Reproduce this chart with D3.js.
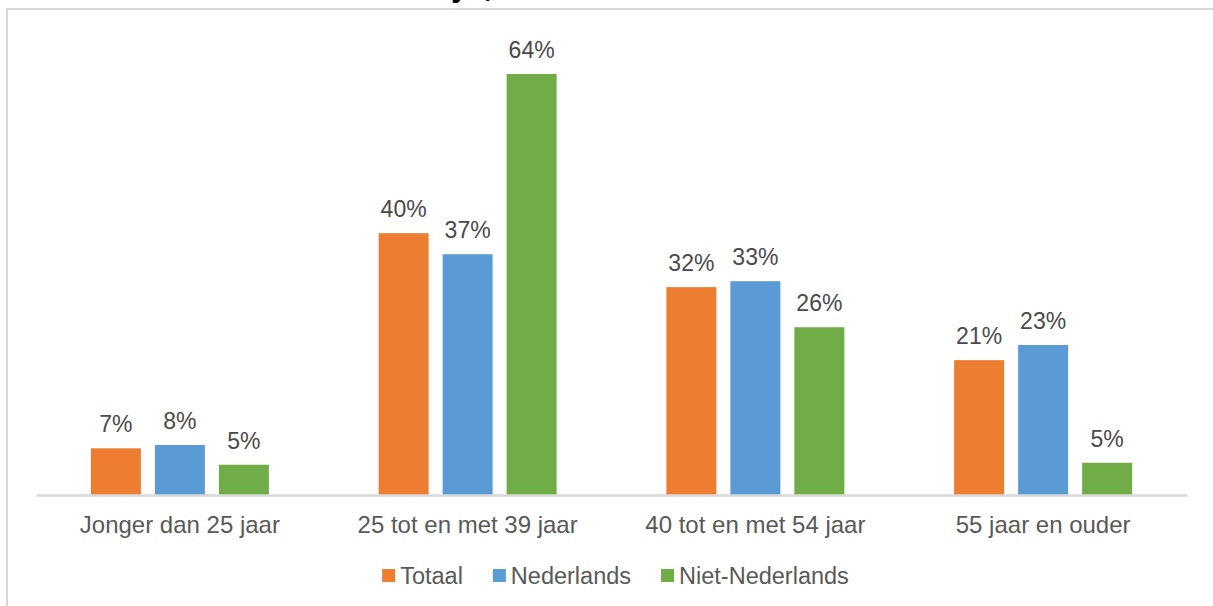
<!DOCTYPE html>
<html><head><meta charset="utf-8">
<script src="https://cdn.jsdelivr.net/npm/d3@7"></script>
<style>
html,body{margin:0;padding:0;background:#fff;overflow:hidden;}
svg{display:block;font-family:"Liberation Sans",Arial,sans-serif;}
</style></head>
<body>
<svg id="c" width="1213" height="606"></svg>
<script>
const categories = ["Jonger dan 25 jaar", "25 tot en met 39 jaar", "40 tot en met 54 jaar", "55 jaar en ouder"];
const seriesNames = ["Totaal", "Nederlands", "Niet-Nederlands"];
const totaal = [7.1, 39.8, 31.6, 20.5];
const nederlands = [7.6, 36.6, 32.5, 22.8];
const nietNederlands = [4.6, 64.0, 25.5, 4.9];
const seriesValues = [totaal, nederlands, nietNederlands];
const colors = ["#ED7D31", "#5B9BD5", "#70AD47"];
const titleFragment = "leeftijd,";

const svg = d3.select("#c");

// cropped title fragment (only its descenders show at the top edge)
svg.append("text").attr("x", 374).attr("y", -4)
  .attr("font-size", 34).attr("font-weight", "bold").attr("fill", "#000")
  .text(titleFragment);

// chart border
svg.append("rect").attr("x", 7).attr("y", 9).attr("width", 1230).attr("height", 620)
  .attr("fill", "none").attr("stroke", "#D9D9D9").attr("stroke-width", 2);

const x0 = d3.scaleBand().domain(categories).range([36, 1187]);
const barW = 50, gap = 14;
const x1 = d3.scaleOrdinal().domain(seriesNames).range([-barW*1.5 - gap, -barW/2, barW/2 + gap]);
const y = d3.scaleLinear().domain([0, 70]).range([495, 34.5]);

const data = [];
categories.forEach((c, i) => seriesNames.forEach((s, j) => data.push({c, s, j, v: seriesValues[j][i]})));

const g = svg.append("g");
g.selectAll("rect.bar").data(data).join("rect").attr("class", "bar")
  .attr("x", d => x0(d.c) + x0.bandwidth()/2 + x1(d.s))
  .attr("y", d => y(d.v))
  .attr("width", barW)
  .attr("height", d => y(0) - y(d.v))
  .attr("fill", d => colors[d.j]);

g.selectAll("text.lbl").data(data).join("text").attr("class", "lbl")
  .attr("x", d => x0(d.c) + x0.bandwidth()/2 + x1(d.s) + barW/2)
  .attr("y", d => y(d.v) - 16)
  .attr("text-anchor", "middle").attr("font-size", 23).attr("fill", "#4a4a4a")
  .text(d => Math.round(d.v) + "%");

// axis
const ax = svg.append("g").attr("transform", `translate(0,${y(0)})`)
  .call(d3.axisBottom(x0).tickSize(0).tickPadding(0));
ax.select(".domain").attr("stroke", "#D9D9D9").attr("stroke-width", 2.5);
ax.selectAll(".tick text").attr("font-size", 24).attr("fill", "#595959")
  .attr("font-family", "Liberation Sans, Arial, sans-serif")
  .attr("dy", null).attr("y", 38);

// legend
const leg = svg.append("g");
const items = leg.selectAll("g").data(seriesNames).join("g");
items.append("rect").attr("width", 13).attr("height", 13).attr("y", 569)
  .attr("fill", (d, i) => colors[i]);
items.append("text").attr("x", 18).attr("y", 584).attr("font-size", 23.5).attr("fill", "#595959")
  .text(d => d);
let xpos = 0;
const widths = [];
items.each(function() { widths.push(this.querySelector("text").getComputedTextLength() + 18); });
const total = d3.sum(widths) + 30 * (widths.length - 1);
xpos = 615.5 - total / 2;
items.each(function(d, i) {
  d3.select(this).attr("transform", `translate(${xpos},0)`);
  xpos += widths[i] + 30;
});
</script>
</body></html>
